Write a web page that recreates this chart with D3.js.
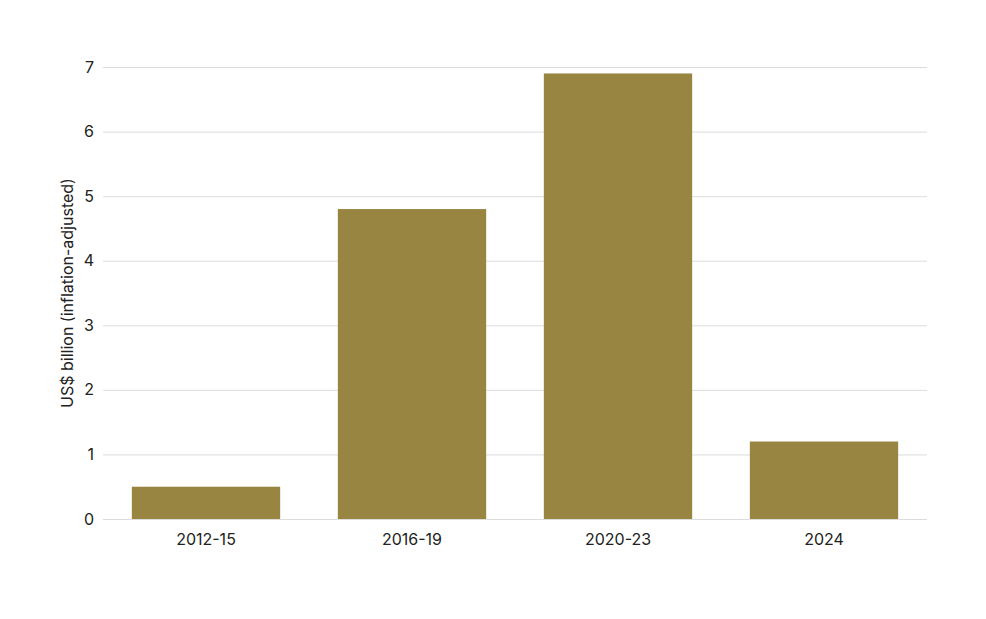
<!DOCTYPE html>
<html>
<head>
<meta charset="utf-8">
<script src="https://cdn.jsdelivr.net/npm/d3@7"></script>
<style>
    body { margin: 0; background: #fff; }
    svg text { font-family: Inter, "Noto Sans", sans-serif; fill: #222; }
</style>
</head>
<body>
<div id="chart"></div>
<script>
const periods = ["2012-15", "2016-19", "2020-23", "2024"];
const values = [0.5, 4.8, 6.9, 1.2];
const yTicks = [0, 1, 2, 3, 4, 5, 6, 7];

const width = 986, height = 619;
const margin = { top: 67, right: 59, bottom: 100, left: 103 };
const innerW = width - margin.left - margin.right;
const innerH = height - margin.top - margin.bottom;

const svg = d3.select("#chart")
    .append("svg")
    .attr("width", width)
    .attr("height", height);

const g = svg.append("g")
    .attr("transform", "translate(" + margin.left + "," + margin.top + ")");

const x = d3.scaleBand()
    .domain(periods)
    .range([0, innerW])
    .paddingInner(0.28)
    .paddingOuter(0.14);

const y = d3.scaleLinear()
    .domain([0, 7])
    .range([innerH, 0]);

// gridlines + y tick labels
const yAxis = g.append("g")
    .call(d3.axisLeft(y).tickValues(yTicks).tickSize(-innerW).tickPadding(9).tickFormat(d3.format("d")));
yAxis.select(".domain").remove();
yAxis.selectAll(".tick line").attr("stroke", "#dcdcdc");
yAxis.selectAll(".tick text").attr("font-size", 16).attr("fill", "#222");

// bars
g.selectAll(".bar")
    .data(values)
    .enter()
    .append("rect")
    .attr("class", "bar")
    .attr("x", (d, i) => x(periods[i]))
    .attr("y", d => y(d))
    .attr("width", x.bandwidth())
    .attr("height", d => innerH - y(d))
    .attr("fill", "#998542");

// x axis labels
const xAxis = g.append("g")
    .attr("transform", "translate(0," + innerH + ")")
    .call(d3.axisBottom(x).tickSize(0).tickPadding(15));
xAxis.select(".domain").remove();
xAxis.selectAll(".tick text").attr("font-size", 16).attr("fill", "#222");

// y label
svg.append("text")
    .attr("transform", "translate(73," + (margin.top + innerH / 2) + ") rotate(-90)")
    .attr("text-anchor", "middle")
    .attr("font-size", 16)
    .text("US$ billion (inflation-adjusted)");
</script>
</body>
</html>
